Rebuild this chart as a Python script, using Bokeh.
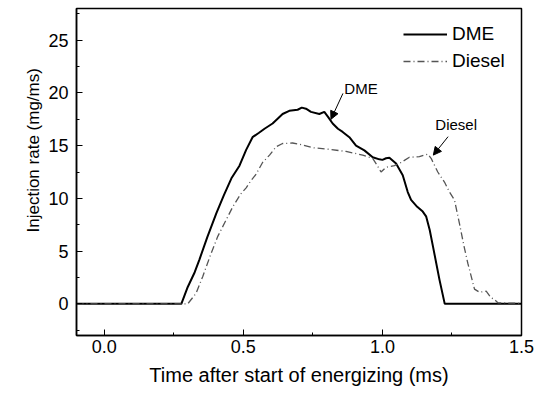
from bokeh.plotting import figure
from bokeh.models import (Range1d, SingleIntervalTicker, NumeralTickFormatter,
                          Arrow, NormalHead, Label, Legend, LegendItem, Title)
from bokeh.embed import file_html
from bokeh.resources import INLINE

# ---- data ----
dme_t = [-0.1, 0.277, 0.30, 0.325, 0.342, 0.37, 0.403, 0.43, 0.457, 0.486, 0.51, 0.533,
         0.555, 0.576, 0.605, 0.625, 0.641, 0.665, 0.695, 0.71, 0.725, 0.743, 0.773, 0.791,
         0.805, 0.821, 0.84, 0.857, 0.881, 0.905, 0.935, 0.965, 0.989, 1.0, 1.013, 1.025,
         1.049, 1.073, 1.091, 1.103, 1.125, 1.145, 1.157, 1.17, 1.182, 1.205, 1.224, 1.5]
dme_q = [0, 0, 1.6, 3.0, 4.2, 6.3, 8.6, 10.3, 11.9, 13.1, 14.6, 15.8,
         16.2, 16.6, 17.1, 17.6, 18.0, 18.3, 18.4, 18.6, 18.5, 18.2, 18.0, 18.2,
         17.7, 17.1, 16.6, 16.3, 15.8, 15.0, 14.55, 13.9, 13.7, 13.65, 13.8, 13.85,
         13.3, 12.2, 10.6, 9.85, 9.2, 8.75, 8.3, 7.0, 5.4, 2.3, 0, 0]

diesel_t = [-0.1, 0.300, 0.33, 0.354, 0.38, 0.408, 0.435, 0.462, 0.49, 0.51, 0.528, 0.546,
            0.569, 0.594, 0.618, 0.641, 0.677, 0.707, 0.749, 0.809, 0.869, 0.929, 0.965,
            0.977, 0.995, 1.013, 1.043, 1.067, 1.097, 1.133, 1.163, 1.175, 1.199, 1.223,
            1.241, 1.259, 1.277, 1.293, 1.307, 1.331, 1.349, 1.373, 1.39, 1.403, 1.415, 1.5]
diesel_q = [0, 0, 1.0, 2.6, 4.5, 6.4, 7.8, 9.2, 10.4, 11.0, 11.7, 12.3,
            13.4, 14.1, 14.9, 15.2, 15.25, 15.1, 14.8, 14.65, 14.45, 14.1, 13.8,
            13.3, 12.5, 12.95, 13.1, 13.4, 13.9, 13.95, 14.2, 13.8, 12.5, 11.55,
            10.6, 9.85, 7.6, 5.5, 3.85, 1.4, 1.1, 1.2, 0.6, 0.4, 0.1, 0.05]

series_names = ["DME", "Diesel"]
x_label = "Time after start of energizing (ms)"
y_label = "Injection rate (mg/ms)"

annot_text = ["DME", "Diesel"]
annot_xy = [(0.923, 20.4), (1.265, 17.0)]
arrow_from = [(0.858, 19.95), (1.236, 15.85)]
arrow_to = [(0.815, 17.5), (1.183, 14.1)]

FONT = "Liberation Sans"

p = figure(width=534, height=398, output_backend="svg", toolbar_location=None,
           x_range=Range1d(-0.1, 1.5), y_range=Range1d(-3, 28),
           min_border_left=76, min_border_right=13, min_border_top=8, min_border_bottom=63)
p.background_fill_color = "white"
p.border_fill_color = "white"
p.outline_line_color = "black"
p.outline_line_width = 1.5
p.xgrid.visible = False
p.ygrid.visible = False

r_dme = p.line(dme_t, dme_q, line_color="black", line_width=2)
r_die = p.line(diesel_t, diesel_q, line_color="#555555", line_width=1.3, line_dash="7 3 1 3")

xax = p.xaxis[0]
xax.ticker = SingleIntervalTicker(interval=0.5, num_minor_ticks=2)
xax.formatter = NumeralTickFormatter(format="0.0")
yax = p.yaxis[0]
yax.ticker = SingleIntervalTicker(interval=5, num_minor_ticks=2)

for ax in (xax, yax):
    ax.axis_line_color = "black"
    ax.axis_line_width = 1.5
    ax.major_tick_in = 6
    ax.major_tick_out = 0
    ax.minor_tick_in = 3
    ax.minor_tick_out = 0
    ax.major_tick_line_color = "black"
    ax.minor_tick_line_color = "black"
    ax.major_label_text_font = FONT
    ax.major_label_text_font_size = "18px"
    ax.major_label_text_color = "black"
    ax.axis_label_text_font = FONT
    ax.axis_label_text_font_style = "normal"
    ax.axis_label_text_color = "black"

xax.axis_label = x_label
xax.axis_label_text_font_size = "20px"
xax.major_label_standoff = 4
xax.axis_label_standoff = 8
yax.major_label_standoff = 8

# y-axis title, shifted up from the frame centre as in the reference
ytitle = Title(text=y_label, align="left", offset=103, standoff=6,
               text_font=FONT, text_font_size="17px", text_font_style="normal",
               text_color="black")
p.add_layout(ytitle, "left")

legend = Legend(items=[LegendItem(label=series_names[0], renderers=[r_dme]),
                       LegendItem(label=series_names[1], renderers=[r_die])],
                location=(327, 263), orientation="vertical")
legend.glyph_width = 44
legend.glyph_height = 20
legend.label_height = 20
legend.label_standoff = 5
legend.spacing = 5
legend.padding = 0
legend.margin = 0
legend.border_line_alpha = 0
legend.background_fill_alpha = 0
legend.label_text_font = FONT
legend.label_text_font_size = "19px"
legend.label_text_color = "black"
p.add_layout(legend)

for txt, (tx, ty), (sx, sy), (ex, ey) in zip(annot_text, annot_xy, arrow_from, arrow_to):
    p.add_layout(Label(x=tx, y=ty, text=txt, text_align="center", text_baseline="middle",
                       text_font=FONT, text_font_size="15px", text_color="black"))
    p.add_layout(Arrow(x_start=sx, y_start=sy, x_end=ex, y_end=ey, line_width=1,
                       line_color="black",
                       end=NormalHead(size=8, fill_color="black", line_color="black")))

open("out.html", "w").write(file_html(p, INLINE))
